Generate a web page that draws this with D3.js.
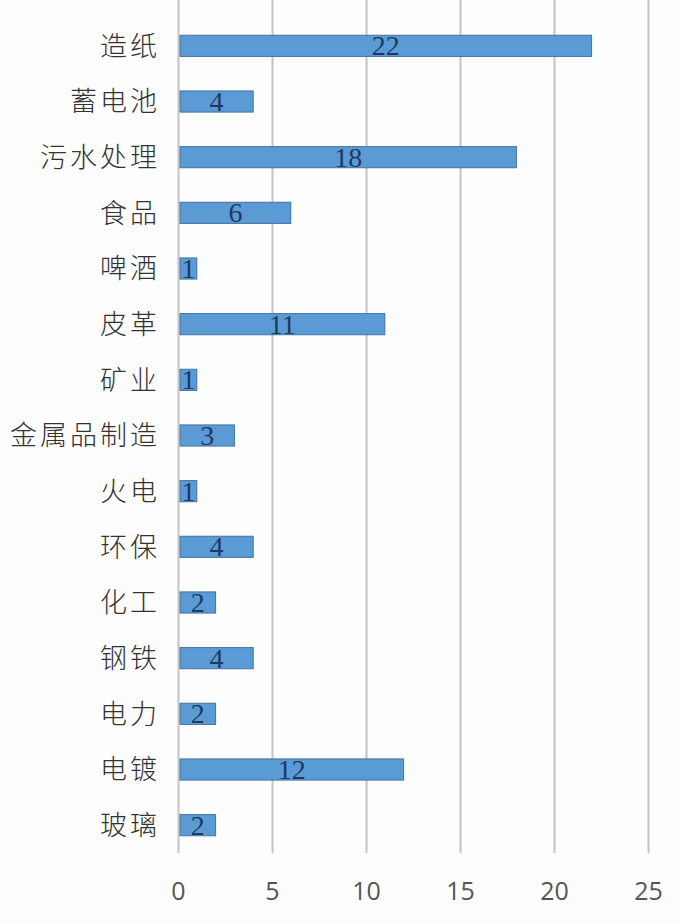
<!DOCTYPE html>
<html>
<head>
<meta charset="utf-8">
<script src="https://cdn.jsdelivr.net/npm/d3@7"></script>
<style>
  html, body { margin: 0; padding: 0; background: #fdfdfd; }
  svg { display: block; }
</style>
</head>
<body>
<svg id="chart" width="680" height="923"></svg>
<script>
// industries, top to bottom
var categories = ['造纸', '蓄电池', '污水处理', '食品', '啤酒', '皮革', '矿业', '金属品制造',
                  '火电', '环保', '化工', '钢铁', '电力', '电镀', '玻璃']
var values = [22, 4, 18, 6, 1, 11, 1, 3, 1, 4, 2, 4, 2, 12, 2]
var xTicks = [0, 5, 10, 15, 20, 25]

var rows = categories.map(function(c, i){ return {name: c, value: values[i]} })

var svg = d3.select('#chart')
var plotLeft = 178, plotRight = 648, plotTop = 18, plotBottom = 853

var x = d3.scaleLinear().domain([0, 25]).range([plotLeft, plotRight])
var y = d3.scaleBand().domain(categories).range([plotTop, plotBottom]).paddingInner(0.62).paddingOuter(0.31)

// grid + tick labels
var axis = svg.append('g')
    .attr('transform', 'translate(0,' + plotBottom + ')')
    .call(d3.axisBottom(x).tickValues(xTicks).tickSize(-plotBottom).tickPadding(29).tickFormat(d3.format('d')))
axis.select('.domain').remove()
axis.selectAll('.tick line').attr('stroke', '#c4c4c4').attr('stroke-width', 2)
axis.selectAll('.tick text')
    .attr('fill', '#555')
    .attr('font-family', 'Open Sans, Noto Sans, sans-serif')
    .attr('font-size', '25px')

// bars
svg.selectAll('rect.bar').data(rows)
  .enter()
  .append('rect')
    .attr('class', 'bar')
    .attr('x', x(0) + 2)
    .attr('y', function(d){ return y(d.name) })
    .attr('width', function(d){ return x(d.value) - x(0) - 2 })
    .attr('height', y.bandwidth())
    .attr('fill', '#5b9bd5')
    .attr('stroke', '#44739f')
    .attr('stroke-width', 1)

// value labels
svg.selectAll('text.val').data(rows)
  .enter()
  .append('text')
    .attr('class', 'val')
    .attr('x', function(d){ return (x(0) + x(d.value)) / 2 + 1 })
    .attr('y', function(d){ return y(d.name) + y.bandwidth() / 2 })
    .attr('dy', '0.34em')
    .attr('text-anchor', 'middle')
    .attr('fill', '#1f3a60')
    .attr('font-family', 'Liberation Serif, serif')
    .attr('font-size', '28px')
    .text(function(d){ return d.value })

// category labels
svg.selectAll('text.cat').data(rows)
  .enter()
  .append('text')
    .attr('class', 'cat')
    .attr('x', 160)
    .attr('y', function(d){ return y(d.name) + y.bandwidth() / 2 })
    .attr('dy', '0.36em')
    .attr('text-anchor', 'end')
    .attr('fill', '#333')
    .attr('font-family', 'Noto Sans CJK SC, sans-serif')
    .attr('font-weight', 300)
    .attr('font-size', '27px')
    .attr('letter-spacing', '3px')
    .text(function(d){ return d.name })
</script>
</body>
</html>
